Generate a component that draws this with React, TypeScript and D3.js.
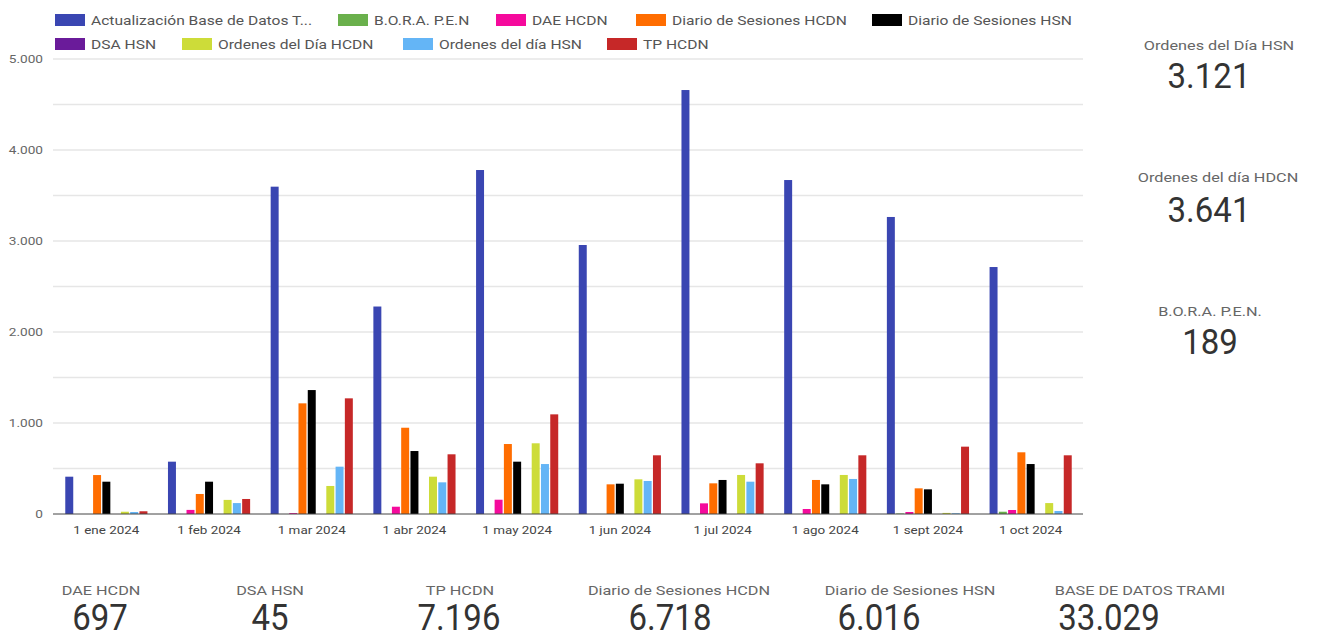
import React from "react";
import * as d3 from "d3";

const months = ["1 ene 2024", "1 feb 2024", "1 mar 2024", "1 abr 2024", "1 may 2024", "1 jun 2024", "1 jul 2024", "1 ago 2024", "1 sept 2024", "1 oct 2024"];

const seriesNames = [
  "Actualización Base de Datos T...",
  "B.O.R.A. P.E.N",
  "DAE HCDN",
  "Diario de Sesiones HCDN",
  "Diario de Sesiones HSN",
  "DSA HSN",
  "Ordenes del Día HCDN",
  "Ordenes del día HSN",
  "TP HCDN",
];

const seriesColors = ["#3a46b2", "#6ab04c", "#f50a9c", "#ff6d00", "#000000", "#6a1b9a", "#cddc39", "#64b5f6", "#c62828"];

const actualizacion = [410, 575, 3597, 2280, 3780, 2956, 4659, 3670, 3264, 2714];
const bora = [0, 0, 0, 0, 0, 0, 0, 0, 5, 25];
const daeHcdn = [0, 45, 10, 80, 157, 0, 117, 55, 22, 44];
const diarioHcdn = [428, 220, 1216, 948, 769, 326, 337, 374, 282, 678];
const diarioHsn = [355, 355, 1362, 692, 575, 333, 374, 326, 271, 549];
const dsaHsn = [0, 0, 0, 0, 0, 0, 0, 0, 0, 0];
const ordenesHcdn = [25, 155, 308, 410, 777, 381, 429, 429, 12, 120];
const ordenesHsn = [22, 120, 520, 348, 549, 363, 355, 385, 8, 33];
const tpHcdn = [30, 165, 1271, 656, 1095, 645, 557, 645, 740, 645];

const seriesValues = [actualizacion, bora, daeHcdn, diarioHcdn, diarioHsn, dsaHsn, ordenesHcdn, ordenesHsn, tpHcdn];

const yTicks = [0, 1000, 2000, 3000, 4000, 5000];
const yGrid = [500, 1000, 1500, 2000, 2500, 3000, 3500, 4000, 4500, 5000];

const rightKpiLabels = ["Ordenes del Día HSN", "Ordenes del día HDCN", "B.O.R.A. P.E.N."];
const rightKpiValues = ["3.121", "3.641", "189"];
const bottomKpiLabels = ["DAE HCDN", "DSA HSN", "TP HCDN", "Diario de Sesiones HCDN", "Diario de Sesiones HSN", "BASE DE DATOS TRAMI"];
const bottomKpiValues = ["697", "45", "7.196", "6.718", "6.016", "33.029"];

// layout
const legendRows = [
  { y: 20, items: [[0, 55], [1, 338], [2, 496], [3, 636], [4, 872]] },
  { y: 44, items: [[5, 55], [6, 182], [7, 403], [8, 607]] },
];
const rightKpiPos = [
  { lx: 1219, ly: 50, vx: 1209, vy: 88 },
  { lx: 1218, ly: 182, vx: 1209, vy: 222 },
  { lx: 1210, ly: 316, vx: 1210, vy: 354 },
];
const bottomKpiPos = [
  { lx: 101, vx: 100 },
  { lx: 270, vx: 270 },
  { lx: 460, vx: 459 },
  { lx: 679, vx: 670 },
  { lx: 910, vx: 879 },
  { lx: 1140, vx: 1109 },
];

const fmt = (v: number) => (v === 0 ? "0" : d3.format(",")(v).replace(/,/g, "."));

type STextProps = {
  x: number;
  y: number;
  sx?: number;
  sy?: number;
  anchor?: "start" | "middle" | "end";
  size: number;
  fill: string;
  children: React.ReactNode;
};

function SText({ x, y, sx = 1.3, sy = 1, anchor = "start", size, fill, children }: STextProps) {
  return (
    <g transform={`translate(${x},${y}) scale(${sx},${sy})`}>
      <text x={0} y={0} textAnchor={anchor} fontSize={size} fill={fill}>
        {children}
      </text>
    </g>
  );
}

export default function App() {
  const W = 1318, H = 637;
  const x0 = d3.scaleBand<string>().domain(months).range([55, 1082]).paddingInner(0.2).paddingOuter(0.1);
  const x1 = d3.scaleBand<number>().domain(d3.range(seriesNames.length)).range([0, x0.bandwidth()]).paddingInner(0.14);
  const y = d3.scaleLinear().domain([0, 5000]).range([514, 59]);
  const font = "Roboto, 'Noto Sans', sans-serif";

  return (
    <svg width={W} height={H} style={{ position: "absolute", left: 0, top: 0, background: "#fff", fontFamily: font }}>
      {/* grid */}
      {yGrid.map((t) => (
        <line key={t} x1={53} x2={1083} y1={y(t)} y2={y(t)} stroke="#e6e6e6" strokeWidth={1.5} />
      ))}
      {yTicks.map((t) => (
        <SText key={t} x={43} y={y(t) + 4} anchor="end" size={10.5} fill="#666" sx={1.3}>
          {fmt(t)}
        </SText>
      ))}
      {/* bars */}
      {months.map((m, mi) => (
        <g key={m} transform={`translate(${x0(m)},0)`}>
          {seriesValues.map((vals, si) =>
            vals[mi] > 0 ? (
              <rect key={si} x={x1(si)} y={y(vals[mi])} width={x1.bandwidth()} height={y(0) - y(vals[mi])} fill={seriesColors[si]} />
            ) : null
          )}
        </g>
      ))}
      <line x1={53} x2={1083} y1={y(0)} y2={y(0)} stroke="#444" strokeWidth={1} />
      {months.map((m) => (
        <SText key={m} x={(x0(m) as number) + x0.bandwidth() / 2} y={534} anchor="middle" size={10.5} fill="#444" sx={1.28}>
          {m}
        </SText>
      ))}
      {/* legend */}
      {legendRows.map((row, ri) =>
        row.items.map(([si, lx]) => (
          <g key={`${ri}-${si}`}>
            <rect x={lx} y={row.y - 6} width={30} height={12} fill={seriesColors[si]} />
            <SText x={lx + 36} y={row.y + 4.5} size={12} fill="#555" sx={1.3}>
              {seriesNames[si]}
            </SText>
          </g>
        ))
      )}
      {/* right KPIs */}
      {rightKpiLabels.map((l, i) => (
        <g key={l}>
          <SText x={rightKpiPos[i].lx} y={rightKpiPos[i].ly} anchor="middle" size={12.5} fill="#666" sx={1.3}>
            {l}
          </SText>
          <SText x={rightKpiPos[i].vx} y={rightKpiPos[i].vy} anchor="middle" size={33} fill="#333" sx={1} sy={1.08}>
            {rightKpiValues[i]}
          </SText>
        </g>
      ))}
      {/* bottom KPIs */}
      {bottomKpiLabels.map((l, i) => (
        <g key={l}>
          <SText x={bottomKpiPos[i].lx} y={595} anchor="middle" size={12.5} fill="#666" sx={1.3}>
            {l}
          </SText>
          <SText x={bottomKpiPos[i].vx} y={630} anchor="middle" size={33} fill="#333" sx={1} sy={1.12}>
            {bottomKpiValues[i]}
          </SText>
        </g>
      ))}
    </svg>
  );
}
